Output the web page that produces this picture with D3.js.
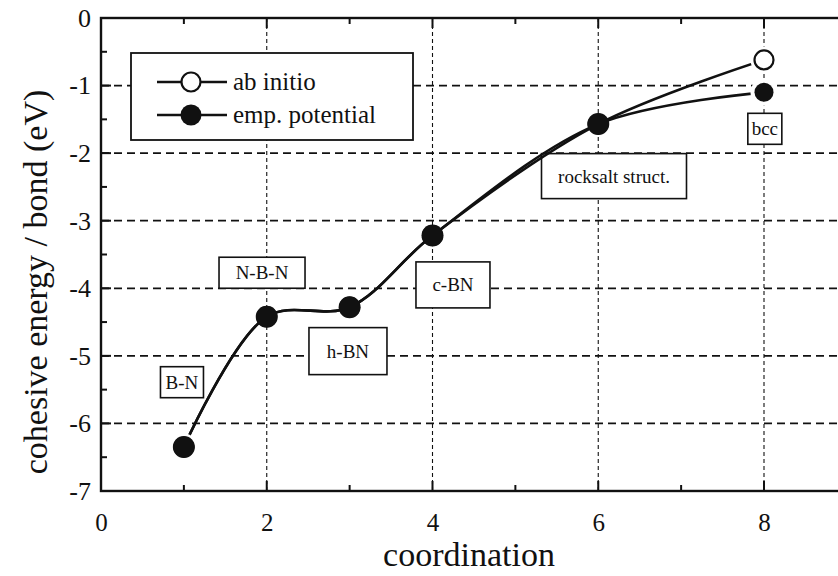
<!DOCTYPE html>
<html>
<head>
<meta charset="utf-8">
<script src="https://cdn.jsdelivr.net/npm/d3@7"></script>
<style>
  html, body { margin: 0; padding: 0; background: #fff; }
  svg { display: block; }
  text { font-family: "Liberation Serif", "DejaVu Serif", serif; fill: #111; }
</style>
</head>
<body>
<svg id="chart" width="838" height="576"></svg>
<script>
// Cohesive energy per bond versus coordination number for boron nitride structures
const coordination = [1, 2, 3, 4, 6, 8];
const abInitio     = [-6.35, -4.42, -4.28, -3.22, -1.57, -0.62];
const empPotential = [-6.35, -4.42, -4.28, -3.22, -1.57, -1.10];
const xTickValues = [0, 2, 4, 6, 8];
const yTickValues = [0, -1, -2, -3, -4, -5, -6, -7];
const seriesNames = ["ab initio", "emp. potential"];
const structureNames = ["B-N", "N-B-N", "h-BN", "c-BN", "rocksalt struct.", "bcc"];

const svg = d3.select("#chart");
const margin = { left: 101, top: 18 };
const unitX = 82.875, unitY = 67.57;

const x = d3.scaleLinear().domain([0, 9]).range([margin.left, margin.left + 9 * unitX]);
const y = d3.scaleLinear().domain([0, -7]).range([margin.top, margin.top + 7 * unitY]);
const [x0, x1] = x.range();
const [y0, y1] = y.range();

// dashed grid
const grid = svg.append("g");
grid.selectAll("line.h").data(yTickValues.filter(v => v < 0 && v > -7)).join("line")
  .attr("x1", x0).attr("x2", x1).attr("y1", d => y(d)).attr("y2", d => y(d))
  .attr("stroke", "#111").attr("stroke-width", 1.8).attr("stroke-dasharray", "8,5");
grid.selectAll("line.v").data(xTickValues.filter(v => v > 0)).join("line")
  .attr("x1", d => x(d)).attr("x2", d => x(d)).attr("y1", y0).attr("y2", y1)
  .attr("stroke", "#111").attr("stroke-width", 1.1).attr("stroke-dasharray", "4,3");

// axes with inward ticks
const majorX = d3.range(0, 10, 2), minorX = d3.range(1, 10, 2);
const majorY = d3.range(0, -8, -1), minorY = d3.range(-0.5, -7, -1);
const axisG = svg.append("g");
const bottom = d3.axisBottom(x).tickValues(xTickValues).tickSize(0).tickPadding(22)
  .tickFormat(d3.format("d"));
const gB = axisG.append("g").attr("transform", `translate(0,${y1})`).call(bottom);
gB.select(".domain").remove();
gB.selectAll("text").attr("font-size", 25);

const left = d3.axisLeft(y).tickValues(yTickValues).tickSize(0).tickPadding(10)
  .tickFormat(d => d === 0 ? "0" : "-" + Math.abs(d));
const gL = axisG.append("g").attr("transform", `translate(${x0},0)`).call(left);
gL.select(".domain").remove();
gL.selectAll("text").attr("font-size", 26);

const ticks = svg.append("g").attr("stroke", "#111").attr("stroke-width", 2);
[[majorX, 10], [minorX, 6]].forEach(([vals, len]) => {
  ticks.selectAll(null).data(vals).join("line")
    .attr("x1", d => x(d)).attr("x2", d => x(d)).attr("y1", y1).attr("y2", y1 - len);
  ticks.selectAll(null).data(vals).join("line")
    .attr("x1", d => x(d)).attr("x2", d => x(d)).attr("y1", y0).attr("y2", y0 + len);
});
[[majorY, 10], [minorY, 6]].forEach(([vals, len]) => {
  ticks.selectAll(null).data(vals).join("line")
    .attr("x1", x0).attr("x2", x0 + len).attr("y1", d => y(d)).attr("y2", d => y(d));
});

// frame
svg.append("rect").attr("x", x0).attr("y", y0).attr("width", x1 - x0).attr("height", y1 - y0)
  .attr("fill", "none").attr("stroke", "#111").attr("stroke-width", 2.4);

// axis titles
svg.append("text").attr("x", 469).attr("y", 566).attr("text-anchor", "middle")
  .attr("font-size", 34).text("coordination");
svg.append("text").attr("transform", "translate(47,282) rotate(-90)")
  .attr("text-anchor", "middle").attr("font-size", 34).text("cohesive energy / bond (eV)");

// structure annotation boxes (centre in data units, box size in px)
const labelLayout = [
  { cx: 0.977, cy: -5.39, w: 43, h: 31 },
  { cx: 1.943, cy: -3.77, w: 86, h: 31 },
  { cx: 2.98,  cy: -4.93, w: 78, h: 47 },
  { cx: 4.247, cy: -3.95, w: 74, h: 46 },
  { cx: 6.19,  cy: -2.34, w: 145, h: 45 },
  { cx: 8.01,  cy: -1.64, w: 34, h: 31 }
];
const ann = svg.append("g");
structureNames.forEach((name, i) => {
  const L = labelLayout[i];
  const g = ann.append("g").attr("transform", `translate(${x(L.cx)},${y(L.cy)})`);
  g.append("rect").attr("x", -L.w / 2).attr("y", -L.h / 2).attr("width", L.w).attr("height", L.h)
    .attr("fill", "#fff").attr("stroke", "#111").attr("stroke-width", 1.6);
  g.append("text").attr("text-anchor", "middle").attr("dy", "0.34em")
    .attr("font-size", 19).text(name);
});

// curves
const pts = vals => coordination.map((c, i) => [c, vals[i]]);
const line = d3.line().x(d => x(d[0])).y(d => y(d[1])).curve(d3.curveCatmullRom.alpha(0.5));
const curves = svg.append("g").attr("fill", "none").attr("stroke", "#111").attr("stroke-width", 2.6);
curves.append("path").attr("d", line(pts(abInitio)));
curves.append("path").attr("d", line(pts(empPotential)));

// markers: halo gap around end points, open circles under filled ones
const R = 11;
const marks = svg.append("g");
const ends = [[coordination[0], empPotential[0]],
              [coordination[5], abInitio[5]], [coordination[5], empPotential[5]]];
marks.selectAll("circle.halo").data(ends).join("circle")
  .attr("cx", d => x(d[0])).attr("cy", d => y(d[1])).attr("r", R + 2.5).attr("fill", "#fff");
marks.selectAll("circle.open").data(pts(abInitio)).join("circle")
  .attr("cx", d => x(d[0])).attr("cy", d => y(d[1])).attr("r", R - 1.5)
  .attr("fill", "#fff").attr("stroke", "#111").attr("stroke-width", 2.2);
marks.selectAll("circle.fill").data(pts(empPotential)).join("circle")
  .attr("cx", d => x(d[0])).attr("cy", d => y(d[1]))
  .attr("r", (d, i) => i === 5 ? R - 1.5 : R).attr("fill", "#111");

// legend
const lg = svg.append("g");
lg.append("rect").attr("x", 131).attr("y", 53).attr("width", 282).attr("height", 87)
  .attr("fill", "#fff").attr("stroke", "#111").attr("stroke-width", 1.8);
seriesNames.forEach((name, i) => {
  const ly = 82 + i * 33;
  lg.append("line").attr("x1", 157).attr("x2", 227).attr("y1", ly).attr("y2", ly)
    .attr("stroke", "#111").attr("stroke-width", 2.4);
  lg.append("circle").attr("cx", 191).attr("cy", ly).attr("r", i === 0 ? 9.5 : 10.5)
    .attr("fill", i === 0 ? "#fff" : "#111")
    .attr("stroke", i === 0 ? "#111" : "none").attr("stroke-width", 2.2);
  lg.append("text").attr("x", 233).attr("y", ly).attr("dy", "0.33em")
    .attr("font-size", 25).text(name);
});
</script>
</body>
</html>
